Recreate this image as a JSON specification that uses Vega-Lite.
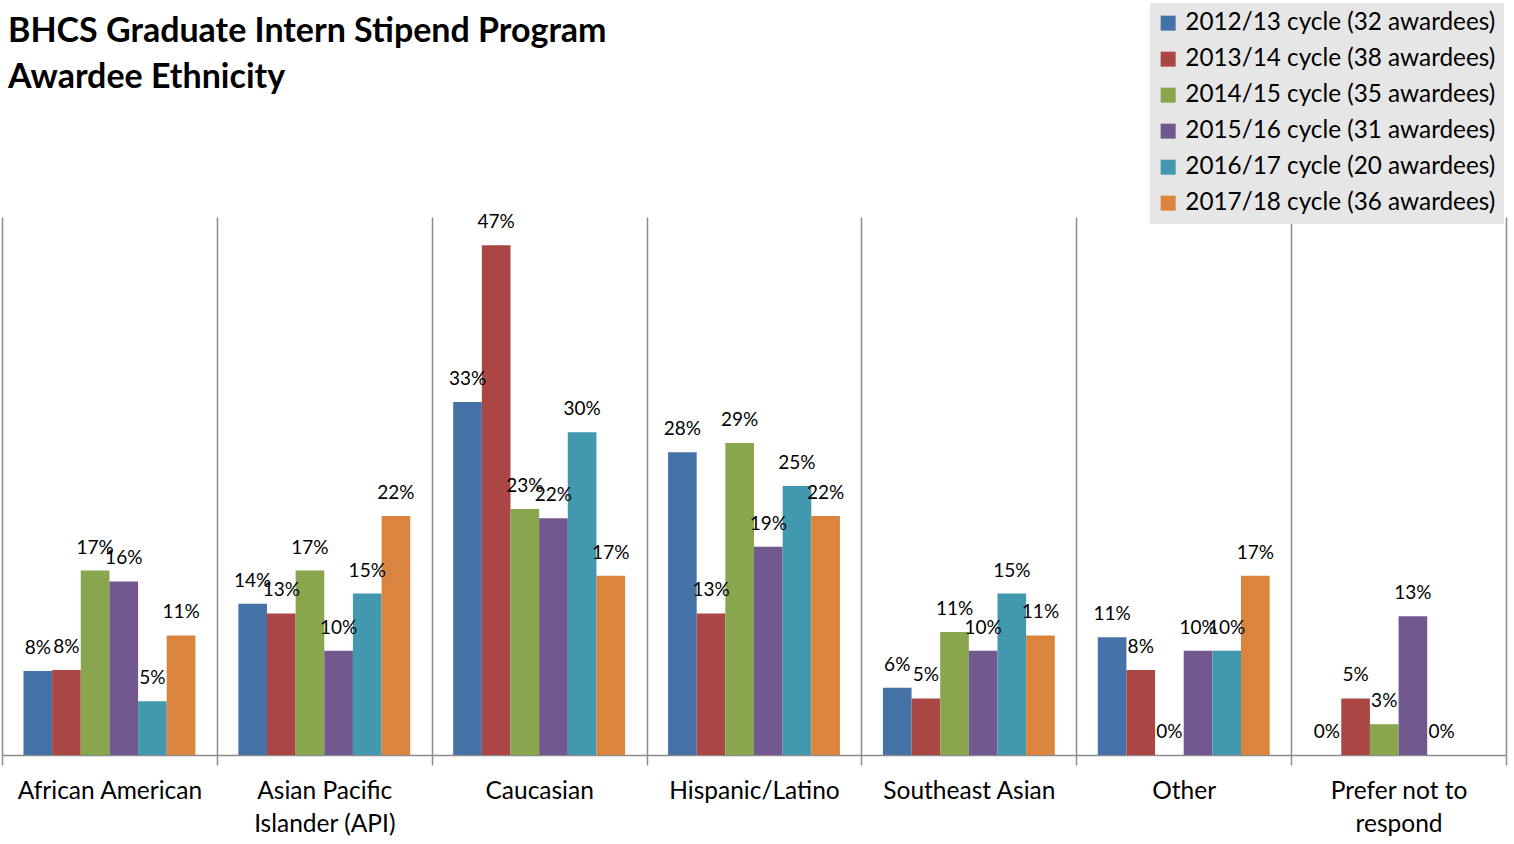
{
  "$schema": "https://vega.github.io/schema/vega-lite/v6.json",
  "width": 1504,
  "height": 538,
  "autosize": {"type": "none"},
  "padding": {"left": 2, "top": 217, "right": 8, "bottom": 89},
  "background": "white",
  "title": {
    "text": ["BHCS Graduate Intern Stipend Program", "Awardee Ethnicity"],
    "anchor": "start",
    "frame": "group",
    "font": "Lato",
    "fontSize": 34,
    "fontWeight": "bold",
    "color": "black",
    "lineHeight": 46,
    "offset": -92,
    "dx": 6
  },
  "data": {
    "values": [
      {"cat": "African American", "cycle": "2012/13 cycle (32 awardees)", "v": 0.0781},
      {"cat": "African American", "cycle": "2013/14 cycle (38 awardees)", "v": 0.0789},
      {"cat": "African American", "cycle": "2014/15 cycle (35 awardees)", "v": 0.1714},
      {"cat": "African American", "cycle": "2015/16 cycle (31 awardees)", "v": 0.1613},
      {"cat": "African American", "cycle": "2016/17 cycle (20 awardees)", "v": 0.05},
      {"cat": "African American", "cycle": "2017/18 cycle (36 awardees)", "v": 0.1111},
      {"cat": "Asian Pacific Islander (API)", "cycle": "2012/13 cycle (32 awardees)", "v": 0.1406},
      {"cat": "Asian Pacific Islander (API)", "cycle": "2013/14 cycle (38 awardees)", "v": 0.1316},
      {"cat": "Asian Pacific Islander (API)", "cycle": "2014/15 cycle (35 awardees)", "v": 0.1714},
      {"cat": "Asian Pacific Islander (API)", "cycle": "2015/16 cycle (31 awardees)", "v": 0.0968},
      {"cat": "Asian Pacific Islander (API)", "cycle": "2016/17 cycle (20 awardees)", "v": 0.15},
      {"cat": "Asian Pacific Islander (API)", "cycle": "2017/18 cycle (36 awardees)", "v": 0.2222},
      {"cat": "Caucasian", "cycle": "2012/13 cycle (32 awardees)", "v": 0.3281},
      {"cat": "Caucasian", "cycle": "2013/14 cycle (38 awardees)", "v": 0.4737},
      {"cat": "Caucasian", "cycle": "2014/15 cycle (35 awardees)", "v": 0.2286},
      {"cat": "Caucasian", "cycle": "2015/16 cycle (31 awardees)", "v": 0.22},
      {"cat": "Caucasian", "cycle": "2016/17 cycle (20 awardees)", "v": 0.30},
      {"cat": "Caucasian", "cycle": "2017/18 cycle (36 awardees)", "v": 0.1667},
      {"cat": "Hispanic/Latino", "cycle": "2012/13 cycle (32 awardees)", "v": 0.2813},
      {"cat": "Hispanic/Latino", "cycle": "2013/14 cycle (38 awardees)", "v": 0.1316},
      {"cat": "Hispanic/Latino", "cycle": "2014/15 cycle (35 awardees)", "v": 0.29},
      {"cat": "Hispanic/Latino", "cycle": "2015/16 cycle (31 awardees)", "v": 0.1935},
      {"cat": "Hispanic/Latino", "cycle": "2016/17 cycle (20 awardees)", "v": 0.25},
      {"cat": "Hispanic/Latino", "cycle": "2017/18 cycle (36 awardees)", "v": 0.2222},
      {"cat": "Southeast Asian", "cycle": "2012/13 cycle (32 awardees)", "v": 0.0625},
      {"cat": "Southeast Asian", "cycle": "2013/14 cycle (38 awardees)", "v": 0.0526},
      {"cat": "Southeast Asian", "cycle": "2014/15 cycle (35 awardees)", "v": 0.1143},
      {"cat": "Southeast Asian", "cycle": "2015/16 cycle (31 awardees)", "v": 0.0968},
      {"cat": "Southeast Asian", "cycle": "2016/17 cycle (20 awardees)", "v": 0.15},
      {"cat": "Southeast Asian", "cycle": "2017/18 cycle (36 awardees)", "v": 0.1111},
      {"cat": "Other", "cycle": "2012/13 cycle (32 awardees)", "v": 0.1094},
      {"cat": "Other", "cycle": "2013/14 cycle (38 awardees)", "v": 0.0789},
      {"cat": "Other", "cycle": "2014/15 cycle (35 awardees)", "v": 0},
      {"cat": "Other", "cycle": "2015/16 cycle (31 awardees)", "v": 0.0968},
      {"cat": "Other", "cycle": "2016/17 cycle (20 awardees)", "v": 0.0968},
      {"cat": "Other", "cycle": "2017/18 cycle (36 awardees)", "v": 0.1667},
      {"cat": "Prefer not to respond", "cycle": "2012/13 cycle (32 awardees)", "v": 0},
      {"cat": "Prefer not to respond", "cycle": "2013/14 cycle (38 awardees)", "v": 0.0526},
      {"cat": "Prefer not to respond", "cycle": "2014/15 cycle (35 awardees)", "v": 0.0286},
      {"cat": "Prefer not to respond", "cycle": "2015/16 cycle (31 awardees)", "v": 0.129},
      {"cat": "Prefer not to respond", "cycle": "2016/17 cycle (20 awardees)", "v": 0}
    ]
  },
  "encoding": {
    "x": {
      "field": "cat",
      "type": "nominal",
      "sort": ["African American", "Asian Pacific Islander (API)", "Caucasian", "Hispanic/Latino", "Southeast Asian", "Other", "Prefer not to respond"],
      "scale": {"paddingInner": 0, "paddingOuter": 0},
      "axis": {
        "title": null,
        "labelAngle": 0,
        "labelFont": "Lato",
        "labelFontSize": 24.5,
        "labelColor": "black",
        "labelPadding": 14,
        "labelLineHeight": 33,
        "labelBaseline": "top",
        "labelLimit": 300,
        "labelExpr": "datum.label == 'Asian Pacific Islander (API)' ? ['Asian Pacific', 'Islander (API)'] : datum.label == 'Prefer not to respond' ? ['Prefer not to', 'respond'] : datum.label",
        "tickBand": "extent",
        "grid": true,
        "gridColor": "#8c8c8c",
        "gridWidth": 1.5,
        "gridOpacity": 1,
        "ticks": true,
        "tickSize": 10,
        "tickColor": "#8c8c8c",
        "tickWidth": 1.5,
        "domainColor": "#8c8c8c",
        "domainWidth": 1.5
      }
    },
    "xOffset": {
      "field": "cycle",
      "type": "nominal",
      "sort": ["2012/13 cycle (32 awardees)", "2013/14 cycle (38 awardees)", "2014/15 cycle (35 awardees)", "2015/16 cycle (31 awardees)", "2016/17 cycle (20 awardees)", "2017/18 cycle (36 awardees)"],
      "scale": {
        "domain": ["2012/13 cycle (32 awardees)", "2013/14 cycle (38 awardees)", "2014/15 cycle (35 awardees)", "2015/16 cycle (31 awardees)", "2016/17 cycle (20 awardees)", "2017/18 cycle (36 awardees)"],
        "paddingInner": 0,
        "paddingOuter": 0.75
      }
    },
    "y": {
      "field": "v",
      "type": "quantitative",
      "scale": {"domain": [0, 0.5], "nice": false},
      "axis": null
    }
  },
  "layer": [
    {
      "mark": {"type": "bar"},
      "encoding": {
        "color": {
          "field": "cycle",
          "type": "nominal",
          "scale": {
            "domain": ["2012/13 cycle (32 awardees)", "2013/14 cycle (38 awardees)", "2014/15 cycle (35 awardees)", "2015/16 cycle (31 awardees)", "2016/17 cycle (20 awardees)", "2017/18 cycle (36 awardees)"],
            "range": ["#4572A7", "#AA4643", "#89A54E", "#71588F", "#4198AF", "#DB843D"]
          },
          "legend": {
            "title": null,
            "orient": "none",
            "legendX": 1148,
            "legendY": -214,
            "fillColor": "#e6e6e6",
            "padding": 8,
            "symbolType": "square",
            "symbolSize": 225,
            "symbolStrokeWidth": 0,
            "symbolOffset": -2,
            "labelFont": "Lato",
            "labelFontSize": 24.3,
            "labelColor": "black",
            "labelOffset": 5,
            "labelLimit": 400,
            "rowPadding": 11
          }
        }
      }
    },
    {
      "mark": {"type": "text", "font": "Lato", "fontSize": 19, "color": "black", "baseline": "alphabetic", "dy": -17},
      "encoding": {
        "text": {"field": "v", "type": "quantitative", "format": ".0%"}
      }
    }
  ],
  "config": {
    "view": {"stroke": null}
  }
}
